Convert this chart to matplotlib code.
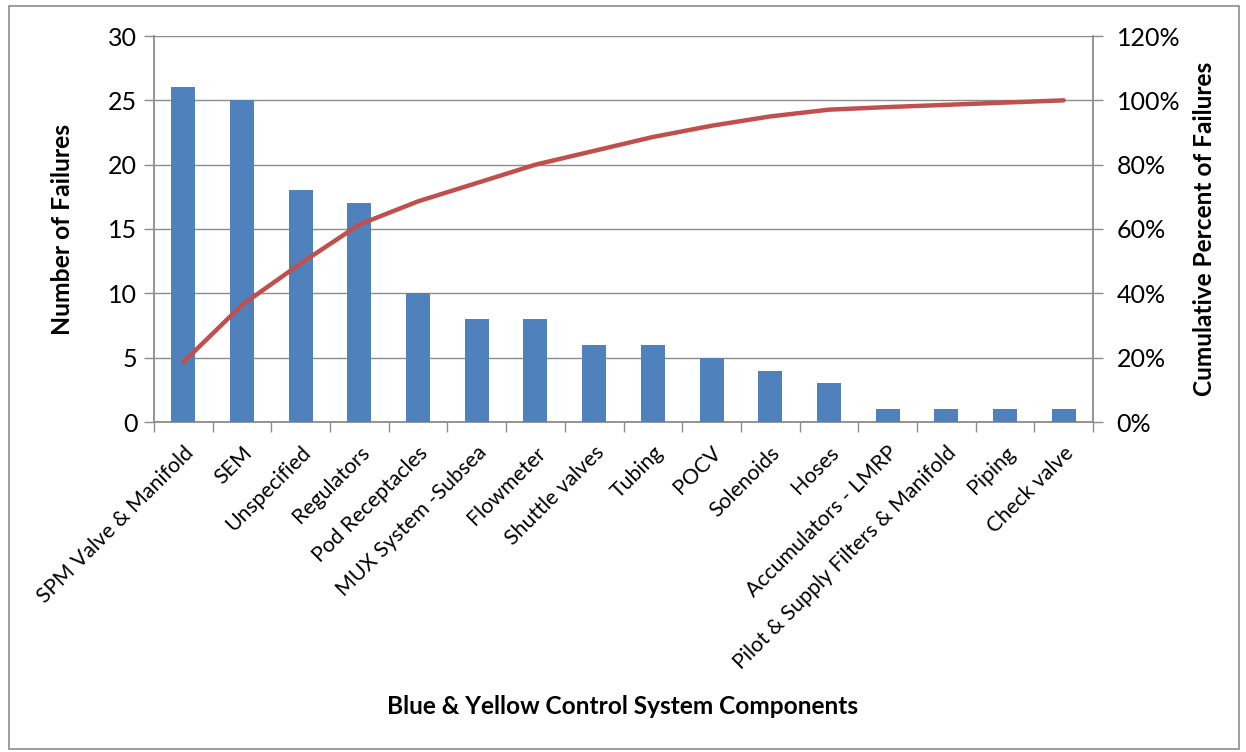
import matplotlib
matplotlib.use("Agg")
import matplotlib.pyplot as plt
from matplotlib.patches import Rectangle
from matplotlib.ticker import FuncFormatter

plt.rcParams['font.family'] = ['Lato', 'DejaVu Sans']

components = [
    "SPM Valve & Manifold", "SEM", "Unspecified", "Regulators",
    "Pod Receptacles", "MUX System -Subsea", "Flowmeter", "Shuttle valves",
    "Tubing", "POCV", "Solenoids", "Hoses", "Accumulators - LMRP",
    "Pilot & Supply Filters & Manifold", "Piping", "Check valve",
]
failures = [26, 25, 18, 17, 10, 8, 8, 6, 6, 5, 4, 3, 1, 1, 1, 1]
cumulative_pct = [18.6, 36.4, 49.3, 61.4, 68.6, 74.3, 80.0, 84.3,
                  88.6, 92.1, 95.0, 97.1, 97.9, 98.6, 99.3, 100.0]

left_ticks = [0, 5, 10, 15, 20, 25, 30]
right_ticks = [0, 20, 40, 60, 80, 100, 120]

BAR = "#4F81BD"
LINE = "#C0504D"
GRID = "#8C8C8C"

W, H = 1246, 752
fig = plt.figure(figsize=(W / 100, H / 100), dpi=100)
ax = fig.add_axes([154 / W, 1 - 422 / H, (1093 - 154) / W, (422 - 36) / H])

x = list(range(len(components)))
ax.bar(x, failures, width=0.41, color=BAR, zorder=3)
ax.set_xlim(-0.5, len(components) - 0.5)
ax.set_ylim(0, 30)
ax.set_yticks(left_ticks)
ax.grid(axis='y', color=GRID, linewidth=1.0, zorder=0)
ax.set_axisbelow(True)

for side in ['top', 'right']:
    ax.spines[side].set_visible(False)
for side in ['left', 'bottom']:
    ax.spines[side].set_color(GRID)
    ax.spines[side].set_linewidth(1.3)

ax.tick_params(axis='y', direction='out', length=7, width=1, color=GRID,
               labelsize=18, pad=5)
# x ticks sit on category boundaries, labels on category centers
ax.set_xticks([i - 0.5 for i in range(len(components) + 1)])
ax.set_xticklabels([])
ax.tick_params(axis='x', direction='out', length=7, width=1, color=GRID)
for i, name in enumerate(components):
    ax.annotate(name, xy=(i, 0), xycoords=('data', 'axes fraction'),
                xytext=(5, -20), textcoords='offset points',
                rotation=45, rotation_mode='anchor', ha='right', va='center',
                fontsize=15.3)

ax2 = ax.twinx()
ax2.plot(x, cumulative_pct, color=LINE, linewidth=3.2, solid_capstyle='round',
         zorder=4)
ax2.set_ylim(0, 120)
ax2.set_yticks(right_ticks)
ax2.yaxis.set_major_formatter(FuncFormatter(lambda v, p: f"{v:.0f}%"))
for side in ['top', 'left', 'bottom']:
    ax2.spines[side].set_visible(False)
ax2.spines['right'].set_color(GRID)
ax2.spines['right'].set_linewidth(1.3)
ax2.tick_params(axis='y', direction='out', length=7, width=1, color=GRID,
                labelsize=18, pad=10)

fig.text(62 / W, 1 - 229 / H, "Number of Failures", rotation=90,
         ha='center', va='center', fontsize=17.8, fontweight='bold')
fig.text(1205 / W, 1 - 229 / H, "Cumulative Percent of Failures", rotation=90,
         ha='center', va='center', fontsize=17.6, fontweight='bold')
fig.text(623 / W, 1 - 707 / H, "Blue & Yellow Control System Components",
         ha='center', va='center', fontsize=17.6, fontweight='bold')

fig.patches.append(Rectangle((9 / W, 3 / H), (1239 - 9) / W, (746 - 3) / H,
                             transform=fig.transFigure, fill=False,
                             edgecolor="#8C8C8C", linewidth=1.2))

fig.savefig("out.png", dpi=100)
